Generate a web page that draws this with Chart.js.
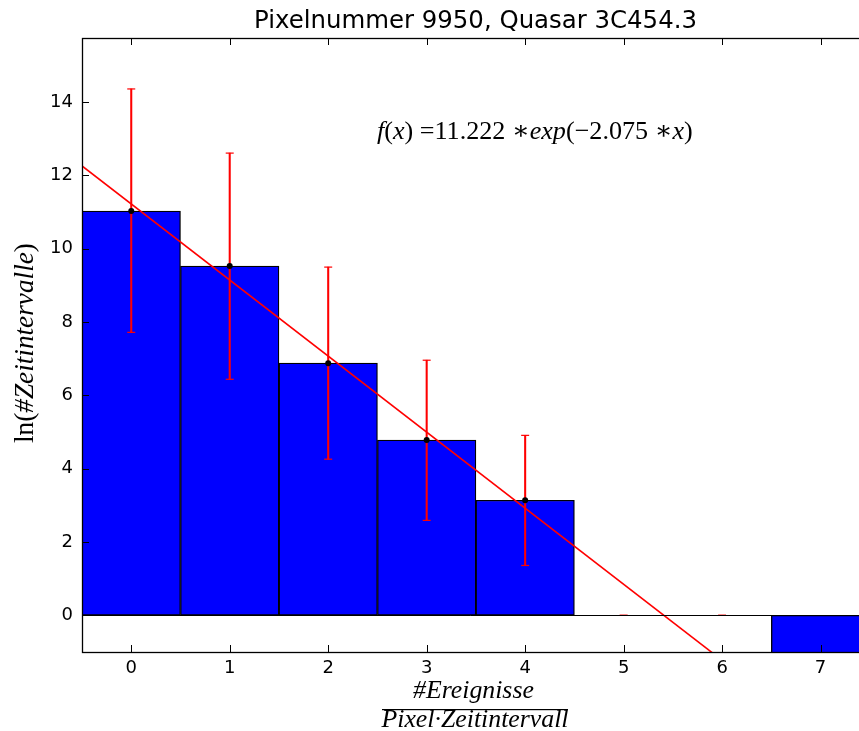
<!DOCTYPE html>
<html><head><meta charset="utf-8">
<script src="https://cdn.jsdelivr.net/npm/chart.js@4.4.1/dist/chart.umd.min.js"></script>
<style>html,body{margin:0;padding:0;background:#fff}#wrap{width:859px;height:731px;position:relative}</style>
</head><body><div id="wrap"><canvas id="c" width="859" height="731"></canvas></div>
<script>
// ---- data ----
const categories = [0, 1, 2, 3, 4, 5, 6, 7];
const lnCounts   = [11.03, 9.53, 6.88, 4.78, 3.14, 0, 0, -1.5];
const errX       = [0, 1, 2, 3, 4, 5, 6];
const errLow     = [7.72, 6.44, 4.26, 2.59, 1.36, 0, 0];
const errHigh    = [14.36, 12.61, 9.50, 6.96, 4.91, 0, 0];
const markerX    = [0, 1, 2, 3, 4];
const markerY    = [11.03, 9.53, 6.88, 4.78, 3.14];
const fitX       = [-0.5, 5.9];
const fitY       = [12.26, -1.02];
const xTicks     = [0, 1, 2, 3, 4, 5, 6, 7];
const yTicks     = [0, 2, 4, 6, 8, 10, 12, 14];
const titleText  = 'Pixelnummer 9950, Quasar 3C454.3';
const xLabelTop  = '#Ereignisse';
const xLabelBot  = 'Pixel\u00B7Zeitintervall';
const fitSegments = [['f',1],['(',0],['x',1],[') =',0],['11.222 ',0],['\u2217',0],['exp',1],['(\u22122.075 ',0],['\u2217',0],['x',1],[')',0]];
const yLabelSegments = [['ln(',0],['#Zeitintervalle',1],[')',0]];

const RED = '#ff0000';
const SERIF = '"Liberation Serif", "DejaVu Serif", serif';
const SANS = '"DejaVu Sans", sans-serif';

function segWidth(ctx, segs, size) {
  let w = 0;
  for (const [t, it] of segs) { ctx.font = (it ? 'italic ' : '') + size + 'px ' + SERIF; w += ctx.measureText(t).width; }
  return w;
}
function fitSize(ctx, segs, target) {
  const w = segWidth(ctx, segs, 20);
  return 20 * target / w;
}
function drawSegs(ctx, segs, x, y, size) {
  let cx = x;
  for (const [t, it] of segs) {
    ctx.font = (it ? 'italic ' : '') + size + 'px ' + SERIF;
    ctx.fillText(t, cx, y);
    cx += ctx.measureText(t).width;
  }
}

const decor = {
  id: 'decor',
  afterDatasetsDraw(chart) {
    const {ctx, chartArea: a, scales: {x, y}} = chart;
    ctx.save();
    ctx.strokeStyle = '#000';
    ctx.lineWidth = 1;
    // zero line
    const y0 = Math.round(y.getPixelForValue(0)) + 0.5;
    ctx.beginPath(); ctx.moveTo(a.left, y0); ctx.lineTo(a.right, y0); ctx.stroke();
    // inner ticks
    ctx.beginPath();
    for (const v of xTicks) {
      const px = Math.round(x.getPixelForValue(v)) + 0.5;
      ctx.moveTo(px, a.bottom); ctx.lineTo(px, a.bottom - 7);
      ctx.moveTo(px, a.top); ctx.lineTo(px, a.top + 7);
    }
    for (const v of yTicks) {
      const py = Math.round(y.getPixelForValue(v)) + 0.5;
      ctx.moveTo(a.left, py); ctx.lineTo(a.left + 7, py);
    }
    ctx.stroke();
    // frame (right spine falls outside the picture)
    ctx.lineWidth = 1.3;
    ctx.strokeRect(a.left + 0.5, a.top + 0.5, a.right - a.left + 6, a.bottom - a.top);
    ctx.restore();
  },
  afterDraw(chart) {
    const {ctx} = chart;
    ctx.save();
    ctx.fillStyle = '#000';
    // title
    ctx.font = '20px ' + SANS;
    let tw = ctx.measureText(titleText).width;
    let ts = 20 * 443 / tw;
    ctx.font = ts + 'px ' + SANS;
    ctx.textAlign = 'center'; ctx.textBaseline = 'alphabetic';
    ctx.fillText(titleText, 475.5, 28);
    ctx.textAlign = 'left';
    // fit annotation
    const fs = fitSize(ctx, fitSegments, 316);
    drawSegs(ctx, fitSegments, 377, 139, fs);
    // x label fraction
    let s1 = fitSize(ctx, [[xLabelTop,1]], 121);
    drawSegs(ctx, [[xLabelTop,1]], 413, 698, s1);
    ctx.fillRect(382, 709, 186, 1.2);
    const bw = segWidth(ctx, [[xLabelBot,1]], s1);
    drawSegs(ctx, [[xLabelBot,1]], 475 - bw / 2, 727, s1);
    // y label (rotated)
    const ys = fitSize(ctx, yLabelSegments, 200);
    ctx.translate(33, 443);
    ctx.rotate(-Math.PI / 2);
    drawSegs(ctx, yLabelSegments, 0, 0, ys);
    ctx.restore();
  }
};

const cfg = {
  type: 'bar',
  data: {
    datasets: [
      {
        type: 'line', label: 'fit', order: 0,
        data: fitX.map((v, i) => ({x: v, y: fitY[i]})),
        borderColor: RED, borderWidth: 1.6, pointRadius: 0, fill: false, tension: 0
      },
      {
        type: 'scatter', label: 'marker', order: 1,
        data: markerX.map((v, i) => ({x: v, y: markerY[i]})),
        pointStyle: 'circle', pointRadius: 3, backgroundColor: '#000', borderColor: '#000', borderWidth: 0
      },
      {
        type: 'scatter', label: 'caps', order: 2,
        data: errX.flatMap((v, i) => [{x: v, y: errHigh[i]}, {x: v, y: errLow[i]}]),
        pointStyle: 'line', pointRadius: 4, borderColor: RED, borderWidth: 1.2, backgroundColor: RED
      },
      {
        type: 'bar', label: 'stems', order: 3, grouped: false,
        data: errX.map((v, i) => ({x: v, y: [errLow[i], errHigh[i]]})),
        backgroundColor: RED, borderWidth: 0, barThickness: 1.4
      },
      {
        type: 'bar', label: 'hist', order: 4, grouped: false,
        data: categories.map((v, i) => ({x: v, y: lnCounts[i]})),
        backgroundColor: '#0000ff', borderColor: '#000', borderWidth: 1.3, borderSkipped: false,
        barPercentage: 1, categoryPercentage: 1
      }
    ]
  },
  options: {
    responsive: false, animation: false,
    layout: {autoPadding: false, padding: {top: 38, left: 0, right: 0, bottom: 0}},
    plugins: {legend: {display: false}, title: {display: false}, tooltip: {enabled: false}},
    scales: {
      x: {
        type: 'linear', min: -0.5, max: 7.39, offset: false,
        grid: {display: false, drawTicks: false},
        border: {display: false},
        afterBuildTicks: s => { s.ticks = xTicks.map(v => ({value: v})); },
        afterFit: s => { s.height = 79; s.paddingRight = 0; s.paddingLeft = 0; },
        ticks: {font: {family: 'DejaVu Sans', size: 18}, color: '#000', padding: 6, maxRotation: 0,
                callback: v => String(v)}
      },
      y: {
        type: 'linear', min: -1, max: 15.75,
        grid: {display: false, drawTicks: false},
        border: {display: false},
        afterBuildTicks: s => { s.ticks = yTicks.map(v => ({value: v})); },
        afterFit: s => { s.width = 82; s.paddingTop = 0; s.paddingBottom = 0; },
        ticks: {font: {family: 'DejaVu Sans', size: 18}, color: '#000', padding: 9,
                callback: v => String(v)}
      }
    }
  },
  plugins: [decor]
};
new Chart(document.getElementById('c'), cfg);
</script>
</body></html>
